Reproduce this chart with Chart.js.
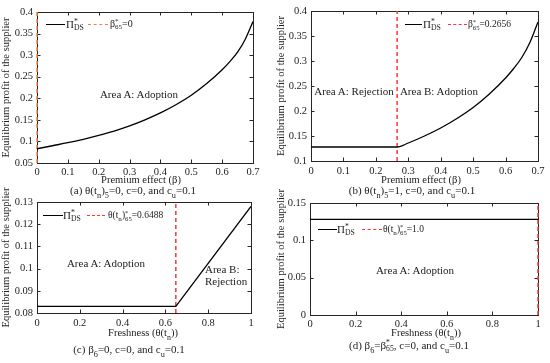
<!DOCTYPE html>
<html><head><meta charset="utf-8">
<script src="https://cdn.jsdelivr.net/npm/chart.js@4/dist/chart.umd.min.js"></script>
<style>
body{margin:0;background:#fff;width:550px;height:363px;overflow:hidden;position:relative;font-family:"Liberation Serif","Times New Roman",serif;color:#222;}
canvas{position:absolute;}
.t{position:absolute;white-space:nowrap;line-height:1;}
.c{transform:translateX(-50%);}
sub{font-size:75%;line-height:0;vertical-align:-0.45em;}
.ss{display:inline-flex;flex-direction:column;vertical-align:middle;font-size:70%;line-height:0.85;text-align:left;}
.ln{position:absolute;height:0;}
</style></head>
<body>
<canvas id="ca" width="275" height="182" style="left:0;top:0"></canvas>
<canvas id="cb" width="275" height="182" style="left:275px;top:0"></canvas>
<canvas id="cc" width="275" height="181" style="left:0;top:182px"></canvas>
<canvas id="cd" width="275" height="181" style="left:275px;top:182px"></canvas>
<div id="ov"></div>
<script>
// ---- data ----
const betaA = [0,0.05,0.1,0.15,0.2,0.25,0.3,0.35,0.4,0.45,0.5,0.55,0.6,0.625,0.65,0.675,0.7];
const profitA = [0.083,0.090,0.097,0.105,0.114,0.124,0.136,0.150,0.166,0.185,0.207,0.234,0.266,0.285,0.307,0.337,0.378];
const betaB = [0,0.2656,0.3,0.35,0.4,0.45,0.5,0.55,0.6,0.625,0.65,0.675,0.7];
const profitB = [0.128,0.128,0.136,0.150,0.166,0.185,0.207,0.234,0.266,0.285,0.307,0.337,0.378];
const freshC = [0,0.6488,1];
const profitC = [0.083,0.083,0.128];
const freshD = [0,1];
const profitD = [0.128,0.128];
const thresholdA = 0, thresholdB = 0.2656, thresholdC = 0.6488, thresholdD = 1.0;
const yRangeA = [0.05,0.4], yRangeB = [0.1,0.4], yRangeC = [0.08,0.13], yRangeD = [0,0.15];
const yStepA = 0.05, yStepB = 0.05, yStepC = 0.01, yStepD = 0.05;
const xRangeAB = [0,0.7], xStepAB = 0.1;
const xRangeCD = [0,1], xStepCD = 0.2;
const yTitle = 'Equilibrium profit of the supplier';

const ORANGE = '#F5803E', RED = '#FF3535', TXT = '#222';
const fmt = v => String(+(+v).toFixed(4));
const tickFont = {family:'"Liberation Serif", serif', size:10.5};

const framePlugin = {
  id:'frame',
  beforeDatasetsDraw(chart){
    const {ctx, chartArea:a, scales:{x,y}} = chart;
    ctx.save();
    ctx.strokeStyle = '#262626'; ctx.lineWidth = 1;
    const L = 3.5;
    ctx.beginPath();
    x.ticks.forEach((t,i)=>{ const px = Math.round(x.getPixelForTick(i))+0.5;
      ctx.moveTo(px,a.bottom); ctx.lineTo(px,a.bottom-L); ctx.moveTo(px,a.top); ctx.lineTo(px,a.top+L); });
    y.ticks.forEach((t,i)=>{ const py = Math.round(y.getPixelForTick(i))+0.5;
      ctx.moveTo(a.left,py); ctx.lineTo(a.left+L,py); ctx.moveTo(a.right,py); ctx.lineTo(a.right-L,py); });
    ctx.stroke();
    ctx.strokeRect(Math.round(a.left)+0.5, Math.round(a.top)+0.5, Math.round(a.right-a.left), Math.round(a.bottom-a.top));
    ctx.restore();
  }
};

function makeChart(id, o){
  return new Chart(document.getElementById(id), {
    type:'line',
    data:{datasets:[
      {label:'Π*DS', data:o.xs.map((x,i)=>({x, y:o.ys[i]})), borderColor:'#000', borderWidth:1.3,
       pointRadius:0, cubicInterpolationMode:o.smooth ? 'monotone' : 'default', tension:0, fill:false},
      {label:o.thrLabel, data:[{x:o.thr,y:o.yr[0]},{x:o.thr,y:o.yr[1]}], borderColor:o.thrColor,
       borderDash:[4,3], borderWidth:1.5, pointRadius:0, clip:false, fill:false}
    ]},
    options:{
      responsive:false, animation:false, events:[],
      layout:{padding:{left:0, top:o.top, right:o.right, bottom:0}},
      plugins:{legend:{display:false}, tooltip:{enabled:false}},
      scales:{
        x:{type:'linear', min:o.xr[0], max:o.xr[1],
           ticks:{stepSize:o.xs_step, callback:fmt, font:tickFont, color:TXT, padding:o.xpad, maxRotation:0, autoSkip:false},
           grid:{display:false, drawTicks:false}, border:{display:false},
           afterFit:s=>{s.height=o.xh;}},
        y:{type:'linear', min:o.yr[0], max:o.yr[1],
           ticks:{stepSize:o.ystep, callback:fmt, font:tickFont, color:TXT, padding:4, autoSkip:false},
           grid:{display:false, drawTicks:false}, border:{display:false},
           title:{display:true, text:yTitle, font:{family:'"Liberation Serif", serif', size:10.5}, color:TXT, padding:0},
           afterFit:s=>{s.width=o.yw;}}
      }
    },
    plugins:[framePlugin]
  });
}

makeChart('ca',{xs:betaA, ys:profitA, smooth:true, thr:thresholdA, thrLabel:'β*65=0', thrColor:ORANGE, yr:yRangeA, ystep:yStepA,
  xr:xRangeAB, xs_step:xStepAB, top:12, right:22, yw:37, xh:19, xpad:3});
makeChart('cb',{xs:betaB, ys:profitB, smooth:true, thr:thresholdB, thrLabel:'β*65=0.2656', thrColor:RED, yr:yRangeB, ystep:yStepB,
  xr:xRangeAB, xs_step:xStepAB, top:11, right:12, yw:36, xh:21, xpad:4});
makeChart('cc',{xs:freshC, ys:profitC, smooth:false, thr:thresholdC, thrLabel:'θ(tn)*65=0.6488', thrColor:RED, yr:yRangeC, ystep:yStepC,
  xr:xRangeCD, xs_step:xStepCD, top:20, right:24, yw:37, xh:50, xpad:4});
makeChart('cd',{xs:freshD, ys:profitD, smooth:false, thr:thresholdD, thrLabel:'θ(tn)*65=1.0', thrColor:RED, yr:yRangeD, ystep:yStepD,
  xr:xRangeCD, xs_step:xStepCD, top:21, right:12, yw:35, xh:48, xpad:3});

// ---- overlay texts ----
const ov = document.getElementById('ov');
function txt(html, x, y, size, center){
  const d = document.createElement('div');
  d.className = 't' + (center ? ' c' : '');
  d.style.left = x+'px'; d.style.top = (y - size/2)+'px'; d.style.fontSize = size+'px';
  d.innerHTML = html; ov.appendChild(d); return d;
}
function line(x1, x2, y, color, dashed){
  const d = document.createElement('div');
  d.className = 'ln';
  d.style.left = x1+'px'; d.style.top = (y-0.5)+'px'; d.style.width = (x2-x1)+'px';
  d.style.borderTop = (dashed ? '1.5px dashed ' : '1.3px solid ') + color;
  ov.appendChild(d);
}
const PI = 'Π<span class="ss"><span>*</span><span>DS</span></span>';
const B65 = 'β<span class="ss"><span>*</span><span>65</span></span>';
const T65 = 'θ(t<sub>n</sub>)<span class="ss"><span>*</span><span>65</span></span>';

// legends
line(46,65,24,'#000',false); txt(PI,66,24,11,false); line(88,108,24,ORANGE,true); txt(B65+'=0',110,24,10,false);
line(405,422,24,'#000',false); txt(PI,423,24,11,false); line(448,467,24,RED,true); txt(B65+'=0.2656',468,24,9.5,false);
line(43,63,215,'#000',false); txt(PI,63,215,11,false); line(87,105,215,RED,true); txt(T65+'=0.6488',108,215,9.5,false);
line(318,337,229,'#000',false); txt(PI,337,229,11,false); line(362,382,229,RED,true); txt(T65+'=1.0',383,229,9.5,false);

// area labels
txt('Area A: Adoption',139,94,11,true);
txt('Area A: Rejection',354,91,11,true);
txt('Area B: Adoption',439,91,11,true);
txt('Area A: Adoption',106,263,11,true);
txt('Area B:',205,269,11,false);
txt('Rejection',205,281,11,false);
txt('Area A: Adoption',415,270,11,true);

// axis titles
txt('Premium effect (β)',141,180,10.5,true);
txt('Premium effect (β)',421,180,10.5,true);
txt('Freshness (θ(t<sub>n</sub>))',143,333,10.5,true);
txt('Freshness (θ(t<sub>n</sub>))',426,333,10.5,true);

// captions
txt('(a) θ(t<sub>n</sub>)<sub>5</sub>=0, c=0, and c<sub>u</sub>=0.1',133,190,11,true);
txt('(b) θ(t<sub>n</sub>)<sub>5</sub>=1, c=0, and c<sub>u</sub>=0.1',412,190.5,11,true);
txt('(c) β<sub>6</sub>=0, c=0, and c<sub>u</sub>=0.1',129,349,11,true);
txt('(d) β<sub>6</sub>='+B65+', c=0, and c<sub>u</sub>=0.1',409,345,11,true);
</script>
</body></html>
